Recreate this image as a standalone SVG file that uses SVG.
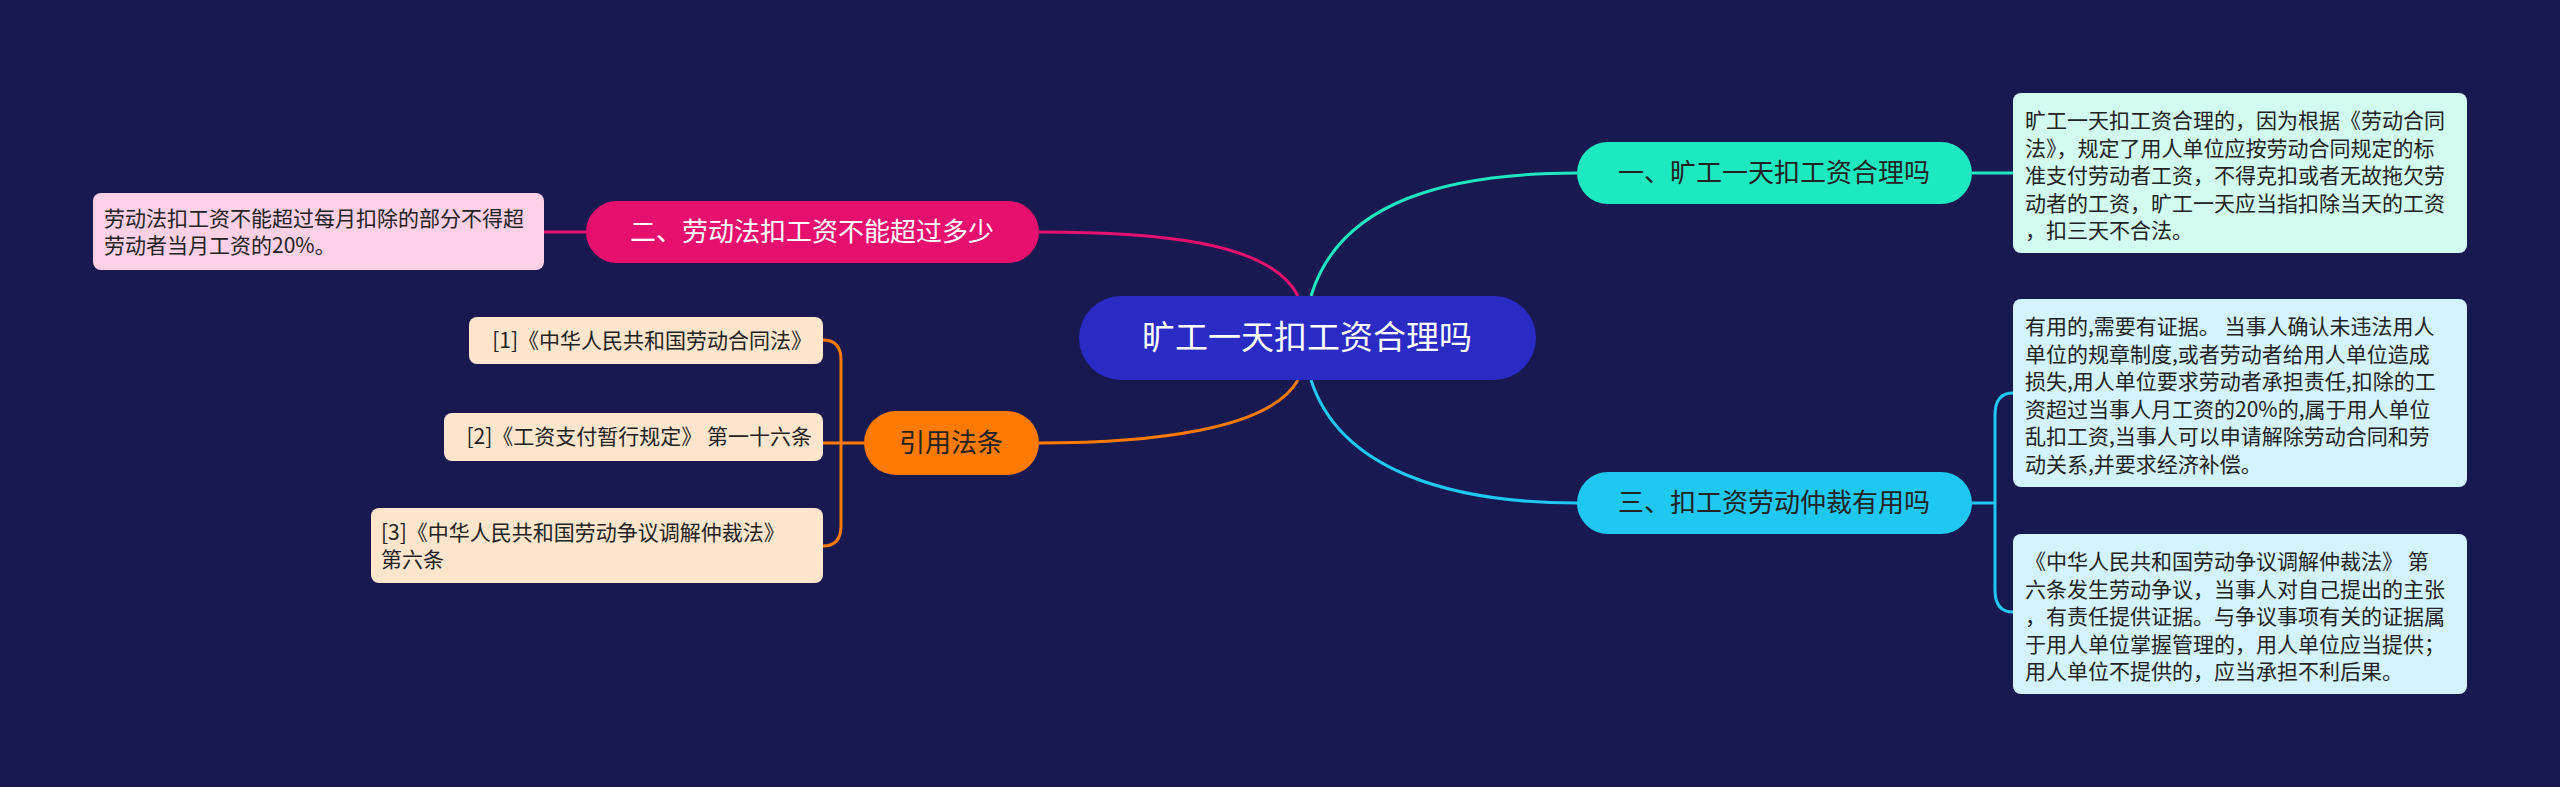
<svg xmlns="http://www.w3.org/2000/svg" width="2560" height="787" viewBox="0 0 2560 787">
<style>
text{font-family:"Noto Sans CJK SC","Liberation Sans",sans-serif}
.leaf{font-size:21px;fill:#222}
.br{font-size:26px}
.c{fill:none;stroke-width:3}
</style>
<rect width="2560" height="787" fill="#181951"/>
<g id="connectors">
<path class="c" stroke="#1de9c0" d="M1311,296 C1340,200 1450,173 1577,173"/>
<path class="c" stroke="#e8106e" d="M1298,296 C1270,240 1150,232 1039,232"/>
<path class="c" stroke="#ff7a00" d="M1298,380 C1270,430 1150,443 1039,443"/>
<path class="c" stroke="#1ec8f0" d="M1311,380 C1340,470 1450,503 1577,503"/>
<path class="c" stroke="#1de9c0" d="M1972,173 L2013,173"/>
<path class="c" stroke="#1ec8f0" d="M1972,503 L1995,503 M2013,393 Q1995,393 1995,415 L1995,590 Q1995,612 2013,612"/>
<path class="c" stroke="#e8106e" d="M586,232 L544,232"/>
<path class="c" stroke="#ff7a00" d="M864,443 L823,443 M823,340 Q841,340 841,360 L841,526 Q841,546 823,546"/>
</g>
<g id="center"><rect x="1079" y="296" width="457" height="84" rx="42" fill="#2a2bc4"/><text x="1307" y="349" font-size="33" fill="#fff" text-anchor="middle">旷工一天扣工资合理吗</text></g>
<g id="b1"><rect x="1577" y="142" width="395" height="62" rx="31" fill="#1de9c0"/><text x="1774" y="182" class="br" fill="#222" text-anchor="middle">一、旷工一天扣工资合理吗</text></g>
<g id="b3"><rect x="1577" y="472" width="395" height="62" rx="31" fill="#1ec8f0"/><text x="1774" y="512" class="br" fill="#222" text-anchor="middle">三、扣工资劳动仲裁有用吗</text></g>
<g id="b2"><rect x="586" y="201" width="453" height="62" rx="31" fill="#e8106e"/><text x="812" y="241" class="br" fill="#fff" text-anchor="middle">二、劳动法扣工资不能超过多少</text></g>
<g id="b4"><rect x="864" y="411" width="175" height="64" rx="32" fill="#ff7a00"/><text x="951" y="452" class="br" fill="#222" text-anchor="middle">引用法条</text></g>
<g id="r1"><rect x="2013" y="93" width="454" height="160" rx="8" fill="#d1fcef"/>
<text class="leaf"><tspan x="2025" y="128">旷工一天扣工资合理的，因为根据《劳动合同</tspan><tspan x="2025" y="155.5">法》，规定了用人单位应按劳动合同规定的标</tspan><tspan x="2025" y="183">准支付劳动者工资，不得克扣或者无故拖欠劳</tspan><tspan x="2025" y="210.5">动者的工资，旷工一天应当指扣除当天的工资</tspan><tspan x="2025" y="238">，扣三天不合法。</tspan></text></g>
<g id="r2"><rect x="2013" y="299" width="454" height="188" rx="8" fill="#d3f4fc"/>
<text class="leaf"><tspan x="2025" y="334">有用的,需要有证据。 当事人确认未违法用人</tspan><tspan x="2025" y="361.5">单位的规章制度,或者劳动者给用人单位造成</tspan><tspan x="2025" y="389">损失,用人单位要求劳动者承担责任,扣除的工</tspan><tspan x="2025" y="416.5">资超过当事人月工资的20%的,属于用人单位</tspan><tspan x="2025" y="444">乱扣工资,当事人可以申请解除劳动合同和劳</tspan><tspan x="2025" y="471.5">动关系,并要求经济补偿。</tspan></text></g>
<g id="r3"><rect x="2013" y="534" width="454" height="160" rx="8" fill="#d3f4fc"/>
<text class="leaf"><tspan x="2025" y="569">《中华人民共和国劳动争议调解仲裁法》 第</tspan><tspan x="2025" y="596.5">六条发生劳动争议，当事人对自己提出的主张</tspan><tspan x="2025" y="624">，有责任提供证据。与争议事项有关的证据属</tspan><tspan x="2025" y="651.5">于用人单位掌握管理的，用人单位应当提供；</tspan><tspan x="2025" y="679">用人单位不提供的，应当承担不利后果。</tspan></text></g>
<g id="l1"><rect x="93" y="193" width="451" height="77" rx="8" fill="#ffd0e6"/>
<text class="leaf"><tspan x="104" y="226">劳动法扣工资不能超过每月扣除的部分不得超</tspan><tspan x="104" y="253">劳动者当月工资的20%。</tspan></text></g>
<g id="ref1"><rect x="469" y="317" width="354" height="47" rx="8" fill="#fee5cc"/><text class="leaf" x="812" y="348" text-anchor="end">[1]《中华人民共和国劳动合同法》</text></g>
<g id="ref2"><rect x="444" y="413" width="379" height="48" rx="8" fill="#fee5cc"/><text class="leaf" x="812" y="444" text-anchor="end">[2]《工资支付暂行规定》 第一十六条</text></g>
<g id="ref3"><rect x="371" y="508" width="452" height="75" rx="8" fill="#fee5cc"/>
<text class="leaf"><tspan x="381" y="540">[3]《中华人民共和国劳动争议调解仲裁法》</tspan><tspan x="381" y="567">第六条</tspan></text></g>
</svg>
